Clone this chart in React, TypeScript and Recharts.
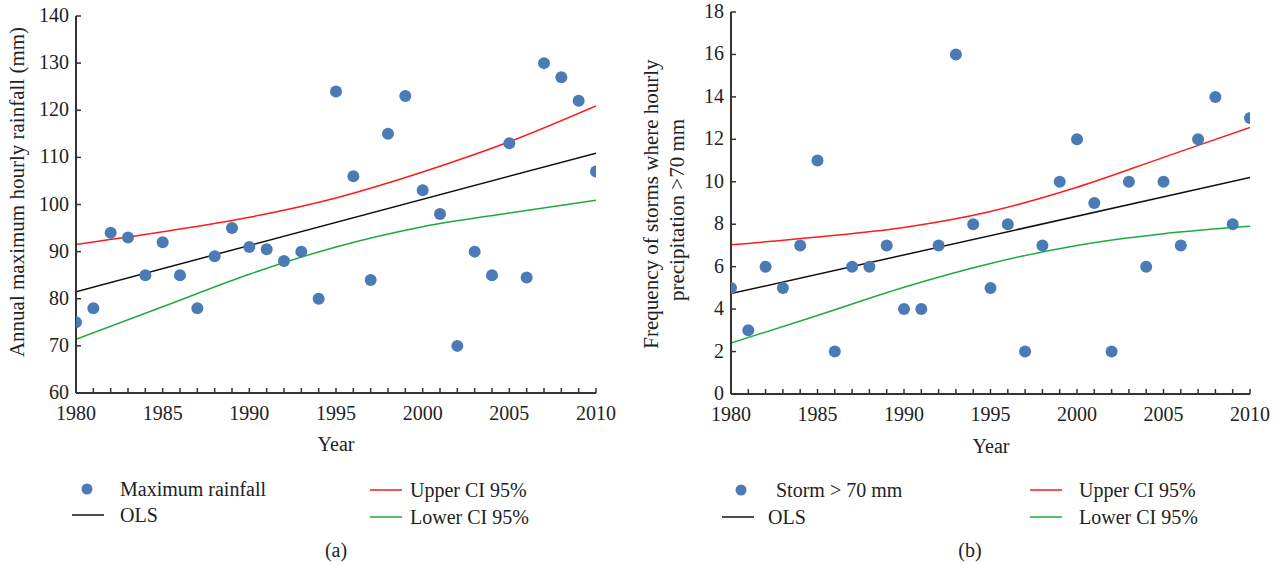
import React from 'react';
import { ComposedChart, Scatter, Line, XAxis, YAxis, CartesianGrid } from 'recharts';

// (a) annual maximum hourly rainfall
const years = [1980, 1981, 1982, 1983, 1984, 1985, 1986, 1987, 1988, 1989, 1990, 1991, 1992, 1993, 1994, 1995,
  1996, 1997, 1998, 1999, 2000, 2001, 2002, 2003, 2004, 2005, 2006, 2007, 2008, 2009, 2010];
const rainfall = [75, 78, 94, 93, 85, 92, 85, 78, 89, 95, 91, 90.5, 88, 90, 80, 124,
  106, 84, 115, 123, 103, 98, 70, 90, 85, 113, 84.5, 130, 127, 122, 107];
const ciYears = [1980, 1985, 1990, 1995, 2000, 2005, 2010];
const rainUpper = [91.5, 94.2, 97.3, 101.4, 106.9, 113.3, 120.9];
const rainLower = [71.4, 78.3, 85.2, 91, 95.3, 98.2, 100.9];
const olsYears = [1980, 2010];
const rainOls = [81.5, 110.9];
const rainTicks = [60, 70, 80, 90, 100, 110, 120, 130, 140];

// (b) storms where hourly precipitation > 70 mm
const storms = [5, 3, 6, 5, 7, 11, 2, 6, 6, 7, 4, 4, 7, 16, 8, 5,
  8, 2, 7, 10, 12, 9, 2, 10, 6, 10, 7, 12, 14, 8, 13];
const stormUpper = [7.03, 7.4, 7.85, 8.6, 9.74, 11.15, 12.56];
const stormLower = [2.4, 3.7, 5.03, 6.15, 7.0, 7.55, 7.9];
const stormOls = [4.73, 10.2];
const stormTicks = [0, 2, 4, 6, 8, 10, 12, 14, 16, 18];

const yearTicks = years;

const FONT = '"Liberation Serif", "DejaVu Serif", serif';
const FS = 20;
const AXIS = '#333';
const BLUE = '#4a7bb7';
const RED = '#ff1a1a';
const GREEN = '#1faa3c';

const pts = (xs: number[], ys: number[]) => xs.map((x, i) => ({ x, y: ys[i] }));

const BottomTick = (p: any) => (
  <g>
    <line x1={p.x} x2={p.x} y1={p.y} y2={p.y - 5} stroke={AXIS} strokeWidth={1.5} />
    {p.payload.value % 5 === 0 && (
      <text x={p.x} y={p.y + 27} textAnchor="middle" fontSize={FS} fill="#222" fontFamily={FONT}>
        {p.payload.value}
      </text>
    )}
  </g>
);

const TopTick = (p: any) => (
  <line x1={p.x} x2={p.x} y1={p.y} y2={p.y + 5} stroke={AXIS} strokeWidth={1.5} />
);

const LeftTick = (p: any) => (
  <g>
    <line x1={p.x} x2={p.x + 5} y1={p.y} y2={p.y} stroke={AXIS} strokeWidth={1.5} />
    <text x={p.x - 7} y={p.y + 6} textAnchor="end" fontSize={FS} fill="#222" fontFamily={FONT}>
      {p.payload.value}
    </text>
  </g>
);

const Dot = (p: any) => <circle cx={p.cx} cy={p.cy} r={6} fill={BLUE} />;

interface PanelProps {
  values: number[];
  upper: number[];
  lower: number[];
  ols: number[];
  ticks: number[];
  margin: { top: number; right: number; left: number; bottom: number };
  yWidth: number;
  xHeight: number;
  width: number;
}

const Panel: React.FC<PanelProps> = ({ values, upper, lower, ols, ticks, margin, yWidth, xHeight, width }) => (
  <ComposedChart width={width} height={470} margin={margin}>
    <CartesianGrid vertical={false} horizontalValues={ticks} stroke={AXIS} strokeWidth={1.5} strokeDasharray="1.5 11" />
    <XAxis xAxisId="b" type="number" dataKey="x" domain={[1980, 2010]} ticks={yearTicks} interval={0}
      height={xHeight} tickSize={0} tickMargin={0} tickLine={false} tick={BottomTick}
      axisLine={{ stroke: AXIS, strokeWidth: 2 }} allowDataOverflow />
    <XAxis xAxisId="t" orientation="top" type="number" dataKey="x" domain={[1980, 2010]} ticks={yearTicks} interval={0}
      height={0} tickSize={0} tickMargin={0} tickLine={false} tick={TopTick}
      axisLine={{ stroke: AXIS, strokeWidth: 2 }} />
    <YAxis yAxisId="l" type="number" domain={[ticks[0], ticks[ticks.length - 1]]} ticks={ticks} interval={0}
      width={yWidth} tickSize={0} tickMargin={0} tickLine={false} tick={LeftTick}
      axisLine={{ stroke: AXIS, strokeWidth: 2 }} allowDataOverflow />
    <YAxis yAxisId="r" orientation="right" type="number" domain={[ticks[0], ticks[ticks.length - 1]]}
      width={0} tick={false} tickLine={false} axisLine={{ stroke: AXIS, strokeWidth: 2 }} />
    <Line xAxisId="b" yAxisId="l" data={pts(ciYears, upper)} dataKey="y" type="monotone" stroke={RED}
      strokeWidth={1.5} dot={false} isAnimationActive={false} />
    <Line xAxisId="b" yAxisId="l" data={pts(ciYears, lower)} dataKey="y" type="monotone" stroke={GREEN}
      strokeWidth={1.5} dot={false} isAnimationActive={false} />
    <Line xAxisId="b" yAxisId="l" data={pts(olsYears, ols)} dataKey="y" type="linear" stroke="#111"
      strokeWidth={1.5} dot={false} isAnimationActive={false} />
    <Scatter xAxisId="b" yAxisId="l" data={pts(years, values)} dataKey="y" shape={Dot} isAnimationActive={false} />
  </ComposedChart>
);

const T = (props: any) => <text fontFamily={FONT} fontSize={FS} fill="#222" {...props} />;

export default function App() {
  return (
    <div style={{ position: 'absolute', left: 0, top: 0, width: 1279, height: 565, background: '#fff' }}>
      <div style={{ position: 'absolute', left: 0, top: 0 }}>
        <Panel values={rainfall} upper={rainUpper} lower={rainLower} ols={rainOls} ticks={rainTicks}
          width={640} margin={{ top: 16, right: 44, left: 0, bottom: 0 }} yWidth={76} xHeight={77} />
      </div>
      <div style={{ position: 'absolute', left: 640, top: 0 }}>
        <Panel values={storms} upper={stormUpper} lower={stormLower} ols={stormOls} ticks={stormTicks}
          width={639} margin={{ top: 12, right: 29, left: 0, bottom: 0 }} yWidth={91} xHeight={76} />
      </div>
      <svg width={1279} height={565} style={{ position: 'absolute', left: 0, top: 0, pointerEvents: 'none' }}>
        <T x={336} y={451} textAnchor="middle">Year</T>
        <T x={991} y={453} textAnchor="middle">Year</T>
        <T x={24} y={192} fontSize={21} textAnchor="middle" transform="rotate(-90 24 192)">Annual maximum hourly rainfall (mm)</T>
        <T x={658} y={204} fontSize={21} textAnchor="middle" transform="rotate(-90 658 204)">Frequency of storms where hourly</T>
        <T x={684} y={210} fontSize={21} textAnchor="middle" transform="rotate(-90 684 210)">precipitation &gt;70 mm</T>

        <circle cx={87} cy={489} r={5.5} fill={BLUE} />
        <T x={120} y={496}>Maximum rainfall</T>
        <line x1={72} x2={104} y1={515} y2={515} stroke="#111" strokeWidth={1.5} />
        <T x={120} y={522}>OLS</T>
        <line x1={370} x2={402} y1={490} y2={490} stroke={RED} strokeWidth={1.5} />
        <T x={410} y={497}>Upper CI 95%</T>
        <line x1={370} x2={402} y1={517} y2={517} stroke={GREEN} strokeWidth={1.5} />
        <T x={410} y={524}>Lower CI 95%</T>
        <T x={336} y={557} textAnchor="middle">(a)</T>

        <circle cx={741} cy={490} r={5.5} fill={BLUE} />
        <T x={776} y={497}>Storm &gt; 70 mm</T>
        <line x1={722} x2={754} y1={517} y2={517} stroke="#111" strokeWidth={1.5} />
        <T x={768} y={524}>OLS</T>
        <line x1={1030} x2={1062} y1={490} y2={490} stroke={RED} strokeWidth={1.5} />
        <T x={1079} y={497}>Upper CI 95%</T>
        <line x1={1030} x2={1062} y1={517} y2={517} stroke={GREEN} strokeWidth={1.5} />
        <T x={1079} y={524}>Lower CI 95%</T>
        <T x={970} y={557} textAnchor="middle">(b)</T>
      </svg>
    </div>
  );
}
